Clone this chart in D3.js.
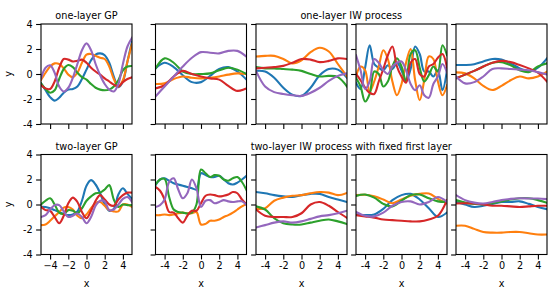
<!DOCTYPE html>
<html>
<head>
<meta charset="utf-8">
<script src="https://cdn.jsdelivr.net/npm/d3@7"></script>
<style>
  body { margin: 0; background: #fff; }
  text { font-family: "DejaVu Sans", sans-serif; fill: #000; }
</style>
</head>
<body>
<svg id="chart" width="550" height="300"></svg>
<script>
// sample grids
const xFine = [-5, -4.5, -4, -3.5, -3, -2.5, -2, -1.5, -1, -0.5, 0, 0.5, 1, 1.5, 2, 2.5, 3, 3.5, 4, 4.5, 5];
const xCoarse = [-5, -4, -3, -2, -1, 0, 1, 2, 3, 4, 5];

const seriesColors = ["#1f77b4", "#ff7f0e", "#2ca02c", "#d62728", "#9467bd"];
const tickValues = [-4, -2, 0, 2, 4];
const yTickLabels = ["-4", "-2", "0", "2", "4"];
const xTickLabels = ["-4", "-2", "0", "2", "4"];
const xTickLabelsMinus = ["\u22124", "\u22122", "0", "2", "4"];
const titlesTop = ["one-layer GP", "one-layer IW process"];
const titlesBottom = ["two-layer GP", "two-layer IW process with fixed first layer"];

// row 1: one-layer GP (fine grid), order blue, orange, green, red, purple
const oneLayerGP = [
  [-0.75, -1.3, -1.85, -2.13, -1.9, -1.5, -1.25, -1.2, -1.0, -0.4, 0.35, 1.1, 1.55, 1.65, 1.5, 0.9, -0.2, -1.05, -0.6, 1.0, 2.6],
  [-0.48, 0.1, 0.6, 0.85, 0.8, 0.45, -0.05, -0.25, 0.1, 0.9, 1.55, 1.6, 1.45, 1.3, 1.2, 0.6, -0.4, -1.0, -0.5, 1.0, 2.4],
  [-0.75, -1.2, -1.5, -1.3, -0.4, 0.4, 0.72, 0.55, 0.1, -0.25, -0.45, -0.8, -1.1, -1.25, -1.3, -1.25, -1.0, -0.5, 0.3, 0.6, 0.64],
  [-0.88, -1.15, -1.2, -0.6, 0.5, 1.2, 1.15, 1.0, 1.05, 1.15, 0.9, 0.5, 0.2, -0.05, -0.35, -0.6, -0.85, -1.0, -0.65, -0.4, -0.27],
  [-0.35, 0.5, 0.7, 0.1, -1.0, -1.4, -1.1, -0.3, 0.8, 1.9, 2.45, 1.9, 0.8, -0.1, -0.8, -1.25, -1.4, -0.8, 0.8, 2.2, 2.9]
];
const oneLayerIW1 = [
  [0.45, 0.9, 0.55, -0.1, -0.65, -0.65, -0.15, 0.4, 0.55, 0.2, -0.45],
  [-0.8, -0.75, -0.4, -0.2, -0.3, -0.35, -0.3, -0.2, -0.05, 0.05, 0.0],
  [0.45, 1.25, 0.9, 0.2, 0.0, 0.0, 0.05, 0.3, 0.5, 0.35, 0.0],
  [-1.15, -0.9, -0.2, 0.25, 0.0, -0.2, -0.35, -0.45, -0.95, -1.35, -1.15],
  [-1.8, -1.0, -0.2, 0.6, 1.3, 1.75, 1.7, 1.65, 1.85, 1.85, 1.38]
];
const oneLayerIW2 = [
  [0.25, 0.2, -0.3, -1.1, -1.65, -1.75, -1.1, -0.1, 0.4, 0.35, -0.3],
  [1.4, 1.45, 1.45, 1.2, 0.85, 1.1, 1.75, 2.1, 1.8, 0.8, -0.2],
  [0.55, 0.45, 0.45, 0.4, 0.35, 0.25, 0.0, -0.2, -0.15, -0.25, -1.0],
  [0.45, 0.5, 0.55, 0.65, 0.9, 1.2, 1.15, 0.95, 1.05, 1.25, 1.2],
  [0.25, -1.0, -1.45, -1.6, -1.7, -1.75, -1.5, -1.1, -0.55, -0.15, 0.05]
];
const oneLayerIW3 = [
  [-0.7, -1.2, 0.5, 2.3, 0.8, 0.5, 0.3, 0.7, 0.4, 0.9, 0.3, -0.6, 0.4, 2.2, 1.6, 0.2, 0.2, -0.2, 0.3, -1.3, 0.3],
  [-0.2, 0.6, 0.3, -1.4, -0.6, 0.6, 1.9, 1.2, -0.6, -1.7, -0.8, 0.9, 2.0, -0.5, -2.1, -0.5, 1.4, 1.2, -0.6, -1.7, -0.9],
  [-0.3, -1.0, -2.2, -1.6, 0.2, 0.0, -1.0, -0.6, 0.6, 1.25, 0.6, -0.6, 1.6, 1.9, 0.5, -0.6, -0.1, 0.6, 0.2, 2.3, 1.5],
  [0.0, -0.5, -1.1, -1.5, -1.6, -0.6, 0.4, 1.5, 2.2, 0.6, -0.2, -0.7, 0.9, 1.2, 0.0, -0.2, 0.6, 0.8, 1.3, 1.6, 0.5],
  [1.5, 0.3, -1.2, -0.6, 1.2, 0.9, 0.3, 0.0, 0.6, 0.9, 1.0, 0.3, -0.8, -1.3, -0.9, -1.7, -1.9, -0.8, -0.2, 0.8, 0.1]
];
const oneLayerIW4 = [
  [0.72, 0.72, 0.78, 1.0, 1.2, 1.15, 0.85, 0.45, 0.2, 0.5, 1.25],
  [0.13, 0.05, -0.35, -0.95, -1.28, -0.95, -0.5, -0.2, -0.35, -0.2, 0.19],
  [-0.35, -0.05, 0.25, 0.6, 0.9, 0.95, 0.7, 0.3, 0.15, 0.6, 0.85],
  [-0.35, -0.05, 0.25, 0.6, 0.9, 1.05, 0.95, 0.72, 0.45, 0.1, -0.6],
  [-0.2, -0.75, -0.65, -0.2, 0.4, 0.45, 0.4, 0.35, 0.3, 0.15, -0.03]
];

// row 2: two-layer GP (fine grid)
const twoLayerGP = [
  [-0.19, -0.2, -0.3, -0.45, -0.6, -0.75, -0.85, -0.8, -0.55, 0.3, 1.5, 1.95, 1.6, 0.9, 0.0, -0.5, -0.35, 0.8, 1.3, 0.85, 0.45],
  [-1.65, -1.6, -1.3, -0.95, -0.6, -0.25, -0.2, -0.4, -0.9, -1.1, -0.8, -0.3, 0.1, 0.2, -0.1, -0.45, -0.55, -0.55, 0.0, 0.0, -0.2],
  [0.0, 0.3, 0.5, 0.0, -0.65, -0.75, -0.45, -0.5, -0.7, -0.3, 0.3, 0.65, 0.9, 0.95, 1.2, 1.55, 0.4, -0.2, 0.0, -0.05, -0.05],
  [-0.19, -0.45, -0.5, -1.0, -1.5, -0.9, 0.1, 0.55, 0.2, -0.6, -1.1, -0.5, 0.3, 0.75, 0.4, 0.0, -0.1, 0.4, 0.75, 0.95, 0.95],
  [-1.0, -0.85, -0.4, -0.05, -0.05, -0.55, -1.0, -0.9, -0.72, -1.0, -1.5, -1.0, -0.1, 0.3, 0.25, -0.45, -0.4, 0.0, 0.45, 0.6, 0.2]
];
const twoLayerIW1 = [
  [1.55, 2.0, 2.1, 1.9, 1.7, 1.6, 1.5, 1.4, 1.3, 1.2, 2.5, 2.35, 2.2, 2.2, 2.3, 2.0, 1.7, 1.6, 1.75, 2.0, 2.3],
  [-0.85, -0.85, -0.8, -0.85, -0.8, -0.7, -0.65, -0.7, -0.7, -0.6, -1.6, -1.55, -1.3, -1.3, -1.2, -1.0, -0.85, -0.65, -0.4, -0.15, 0.05],
  [1.6, 2.0, 2.05, 0.6, -0.4, -0.6, -0.65, -0.72, -0.65, 0.0, 2.8, 2.5, 2.2, 2.35, 2.3, 2.0, 1.9, 2.1, 2.2, 1.8, 1.15],
  [1.4, 1.1, 0.4, -0.6, -0.65, -1.1, -1.45, -0.9, -0.5, -0.5, 0.1, 0.7, 0.8, 0.75, 0.65, 0.7, 0.8, 1.0, 0.9, 0.4, 0.0],
  [-0.2, -0.05, 0.4, 1.8, 2.1, 1.2, 0.5, 0.9, 2.0, 1.3, -0.2, 0.3, 0.35, 0.1, 0.2, 0.35, 0.25, 0.2, 0.25, 0.25, -0.05]
];
const twoLayerIW2 = [
  [1.0, 0.9, 0.75, 0.65, 0.6, 0.75, 0.85, 0.85, 0.6, 0.4, 0.2],
  [-0.35, -0.3, 0.3, 0.55, 0.7, 0.75, 0.9, 1.0, 0.95, 0.75, 0.93],
  [-0.15, -0.4, -1.1, -1.5, -1.6, -1.6, -1.45, -1.3, -1.2, -1.35, -1.57],
  [-0.4, -0.9, -1.0, -1.0, -1.0, -0.7, 0.0, 0.2, -0.1, -0.6, -1.07],
  [-1.84, -1.65, -1.45, -1.35, -1.45, -1.35, -1.15, -0.95, -0.85, -0.7, -0.5]
];
const twoLayerIW3 = [
  [-0.8, -0.85, -0.8, -0.35, 0.35, 0.75, 0.85, 0.4, -0.3, -1.0, -0.64],
  [0.75, 0.78, 0.65, 0.4, 0.1, 0.4, 0.7, 0.85, 0.88, 0.45, 0.08],
  [0.69, 0.8, 0.55, 0.05, -0.15, 0.3, 0.75, 0.8, 0.5, 0.25, 0.21],
  [-0.85, -0.95, -1.05, -1.2, -1.25, -1.3, -1.35, -1.35, -1.2, -0.9, 0.35],
  [-0.6, -0.9, -0.95, -0.65, -0.1, 0.2, 0.25, 0.0, 0.2, 0.6, 0.21]
];
const twoLayerIW4 = [
  [0.21, 0.0, -0.2, -0.1, 0.05, 0.2, 0.2, 0.25, 0.05, -0.2, -0.37],
  [-1.7, -1.7, -1.95, -2.2, -2.25, -2.25, -2.2, -2.2, -2.3, -2.4, -2.4],
  [0.35, 0.15, 0.05, 0.0, 0.1, 0.25, 0.4, 0.5, 0.5, 0.35, 0.13],
  [0.08, 0.1, 0.08, 0.0, -0.1, -0.1, -0.15, -0.2, -0.15, -0.1, -0.1],
  [0.75, 0.35, 0.15, 0.08, 0.2, 0.35, 0.45, 0.5, 0.48, 0.48, 0.43]
];

const panels = [
  { row: 0, col: 0, xs: xFine, lines: oneLayerGP },
  { row: 0, col: 1, xs: xCoarse, lines: oneLayerIW1 },
  { row: 0, col: 2, xs: xCoarse, lines: oneLayerIW2 },
  { row: 0, col: 3, xs: xFine, lines: oneLayerIW3 },
  { row: 0, col: 4, xs: xCoarse, lines: oneLayerIW4 },
  { row: 1, col: 0, xs: xFine, lines: twoLayerGP },
  { row: 1, col: 1, xs: xFine, lines: twoLayerIW1 },
  { row: 1, col: 2, xs: xCoarse, lines: twoLayerIW2 },
  { row: 1, col: 3, xs: xCoarse, lines: twoLayerIW3 },
  { row: 1, col: 4, xs: xCoarse, lines: twoLayerIW4 }
];

const colLeft = [41, 155.5, 256, 356, 456];
const rowTop = [24, 154.5];
const pw = 91, ph = 100;
const fs = "9.7px";

const svg = d3.select("#chart");

panels.forEach(function (p, i) {
  const x = d3.scaleLinear().domain([-5, 5]).range([0, pw]);
  const y = d3.scaleLinear().domain([-4, 4]).range([ph, 0]);
  const g = svg.append("g").attr("transform", "translate(" + colLeft[p.col] + "," + rowTop[p.row] + ")");

  g.append("clipPath").attr("id", "clip" + i)
    .append("rect").attr("width", pw).attr("height", ph);

  const line = d3.line()
    .x(function (d) { return x(d[0]); })
    .y(function (d) { return y(d[1]); })
    .curve(d3.curveCatmullRom.alpha(0.5));

  g.append("g").attr("clip-path", "url(#clip" + i + ")")
    .selectAll("path").data(p.lines).enter().append("path")
    .attr("d", function (vals) { return line(p.xs.map(function (xv, k) { return [xv, vals[k]]; })); })
    .attr("fill", "none")
    .attr("stroke", function (d, k) { return seriesColors[k]; })
    .attr("stroke-width", 2.1)
    .attr("stroke-linejoin", "round")
    .attr("stroke-linecap", "square");

  // axes
  let xLabels = p.row == 1 ? (p.col == 0 ? xTickLabelsMinus : xTickLabels) : null;
  const xAxis = d3.axisBottom(x).tickValues(tickValues).tickSize(4.9).tickPadding(3)
    .tickSizeOuter(0)
    .tickFormat(function (d, k) { return xLabels ? xLabels[k] : ""; });
  const yAxis = d3.axisLeft(y).tickValues(tickValues).tickSize(4.9).tickPadding(3.5)
    .tickSizeOuter(0)
    .tickFormat(function (d, k) { return p.col == 0 ? yTickLabels[k] : ""; });

  const gx = g.append("g").attr("transform", "translate(0," + ph + ")").call(xAxis);
  const gy = g.append("g").call(yAxis);
  [gx, gy].forEach(function (a) {
    a.select(".domain").remove();
    a.selectAll("line").attr("stroke", "#000").attr("stroke-width", 1.1);
    a.selectAll("text").style("font-size", fs).style("font-family", "DejaVu Sans");
  });

  g.append("rect").attr("width", pw).attr("height", ph)
    .attr("fill", "none").attr("stroke", "#000").attr("stroke-width", 1.1);

  if (p.col == 0) {
    g.append("text")
      .attr("transform", "translate(-29," + ph / 2 + ") rotate(-90)")
      .attr("text-anchor", "middle")
      .style("font-size", fs)
      .text("y");
  }
  if (p.row == 1) {
    g.append("text")
      .attr("x", pw / 2).attr("y", ph + 32)
      .attr("text-anchor", "middle")
      .style("font-size", fs)
      .text("x");
  }
});

// titles
[titlesTop, titlesBottom].forEach(function (t, r) {
  svg.append("text")
    .attr("x", colLeft[0] + pw / 2).attr("y", rowTop[r] - 4.8)
    .attr("text-anchor", "middle").style("font-size", fs)
    .text(t[0]);
  svg.append("text")
    .attr("x", (colLeft[1] + colLeft[4] + pw) / 2).attr("y", rowTop[r] - 4.8)
    .attr("text-anchor", "middle").style("font-size", fs)
    .text(t[1]);
});
</script>
</body>
</html>
